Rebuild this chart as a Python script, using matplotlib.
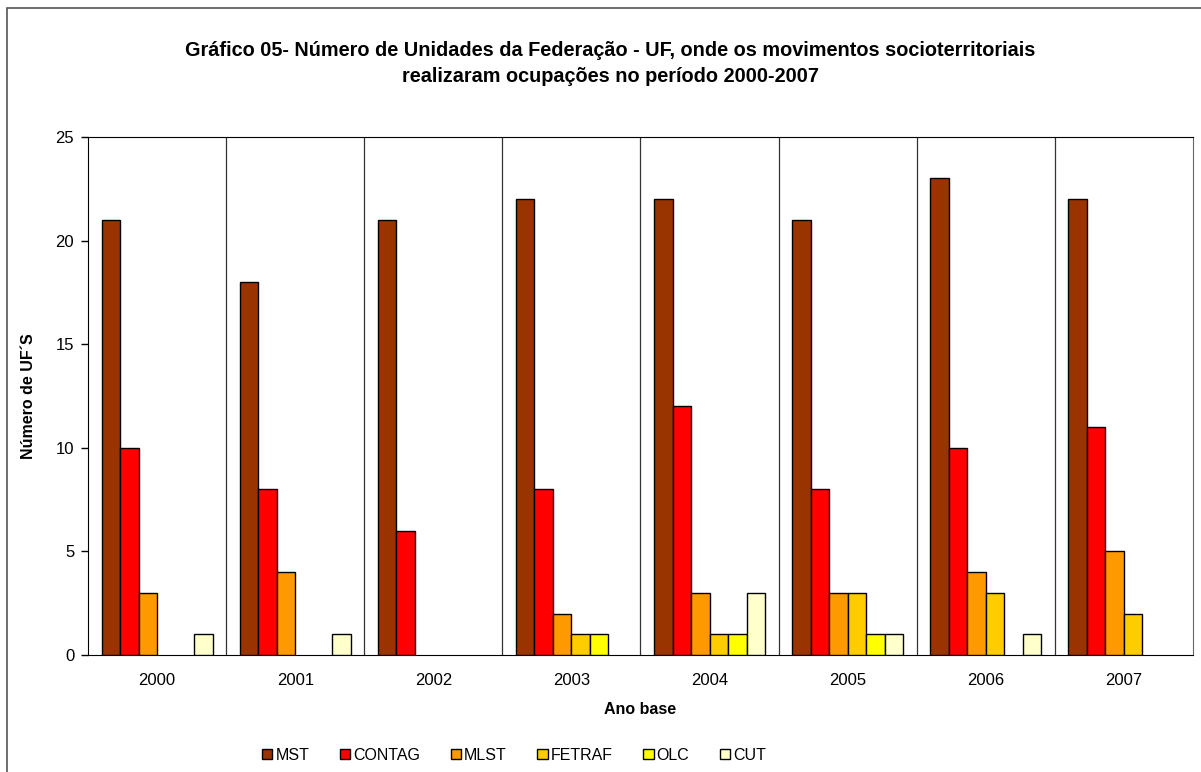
import matplotlib.pyplot as plt
import numpy as np
from matplotlib.patches import Rectangle

plt.rcParams["font.family"] = ["Liberation Sans", "DejaVu Sans"]

years = ["2000", "2001", "2002", "2003", "2004", "2005", "2006", "2007"]
series_names = ["MST", "CONTAG", "MLST", "FETRAF", "OLC", "CUT"]
mst = [21, 18, 21, 22, 22, 21, 23, 22]
contag = [10, 8, 6, 8, 12, 8, 10, 11]
mlst = [3, 4, 0, 2, 3, 3, 4, 5]
fetraf = [0, 0, 0, 1, 1, 3, 3, 2]
olc = [0, 0, 0, 1, 1, 1, 0, 0]
cut = [1, 1, 0, 0, 3, 1, 1, 0]
colors = ["#993300", "#FF0000", "#FF9900", "#FFCC00", "#FFFF00", "#FFFFCC"]

series = [mst, contag, mlst, fetraf, olc, cut]

fig = plt.figure(figsize=(12.01, 7.72), dpi=100)
ax = fig.add_axes([0.0733, 0.1516, 0.92, 0.6709])

# outer chart border (only left/top visible in the crop)
fig.patches.append(Rectangle((7 / 1201, -0.1), 1.2, 1.1 - 8 / 772,
                             transform=fig.transFigure, fill=False,
                             edgecolor="#555555", linewidth=1.2))

x = np.arange(len(years))
bw = 0.134
offsets = (np.arange(len(series)) - (len(series) - 1) / 2) * bw
for vals, off, col, name in zip(series, offsets, colors, series_names):
    v = np.array(vals, dtype=float)
    mask = v > 0
    ax.bar(x[mask] + off, v[mask], width=bw, color=col, edgecolor="black",
           linewidth=1.0, label=name, zorder=3)

for b in x[:-1] + 0.5:
    ax.axvline(b, color="#333333", linewidth=0.9, zorder=1)

ax.set_xlim(-0.5, len(years) - 0.5)
ax.set_ylim(0, 25)
ax.set_yticks([0, 5, 10, 15, 20, 25])
ax.set_xticks(x)
ax.set_xticklabels(years)
ax.tick_params(axis="x", length=0, pad=13, labelsize=12)
ax.tick_params(axis="y", length=5, width=1, pad=5, labelsize=12)
for s in ["left", "bottom", "top"]:
    ax.spines[s].set_color("black")
ax.spines["right"].set_color("#666666")

ax.set_xlabel("Ano base", fontsize=11.5, fontweight="bold", labelpad=10)
ax.set_ylabel("Número de UF´S", fontsize=11.5, fontweight="bold", labelpad=14)

fig.text(0.508, 0.918,
         "Gráfico 05- Número de Unidades da Federação - UF, onde os movimentos socioterritoriais\n"
         "realizaram ocupações no período 2000-2007",
         ha="center", va="center", fontsize=14.3, fontweight="bold", linespacing=1.5)

fig.legend(loc="center", bbox_to_anchor=(0.428, 0.022), ncol=6, frameon=False,
           fontsize=11.5, handlelength=0.65, handleheight=0.65, handletextpad=0.2,
           columnspacing=1.9)

fig.savefig("out.png", dpi=100)
